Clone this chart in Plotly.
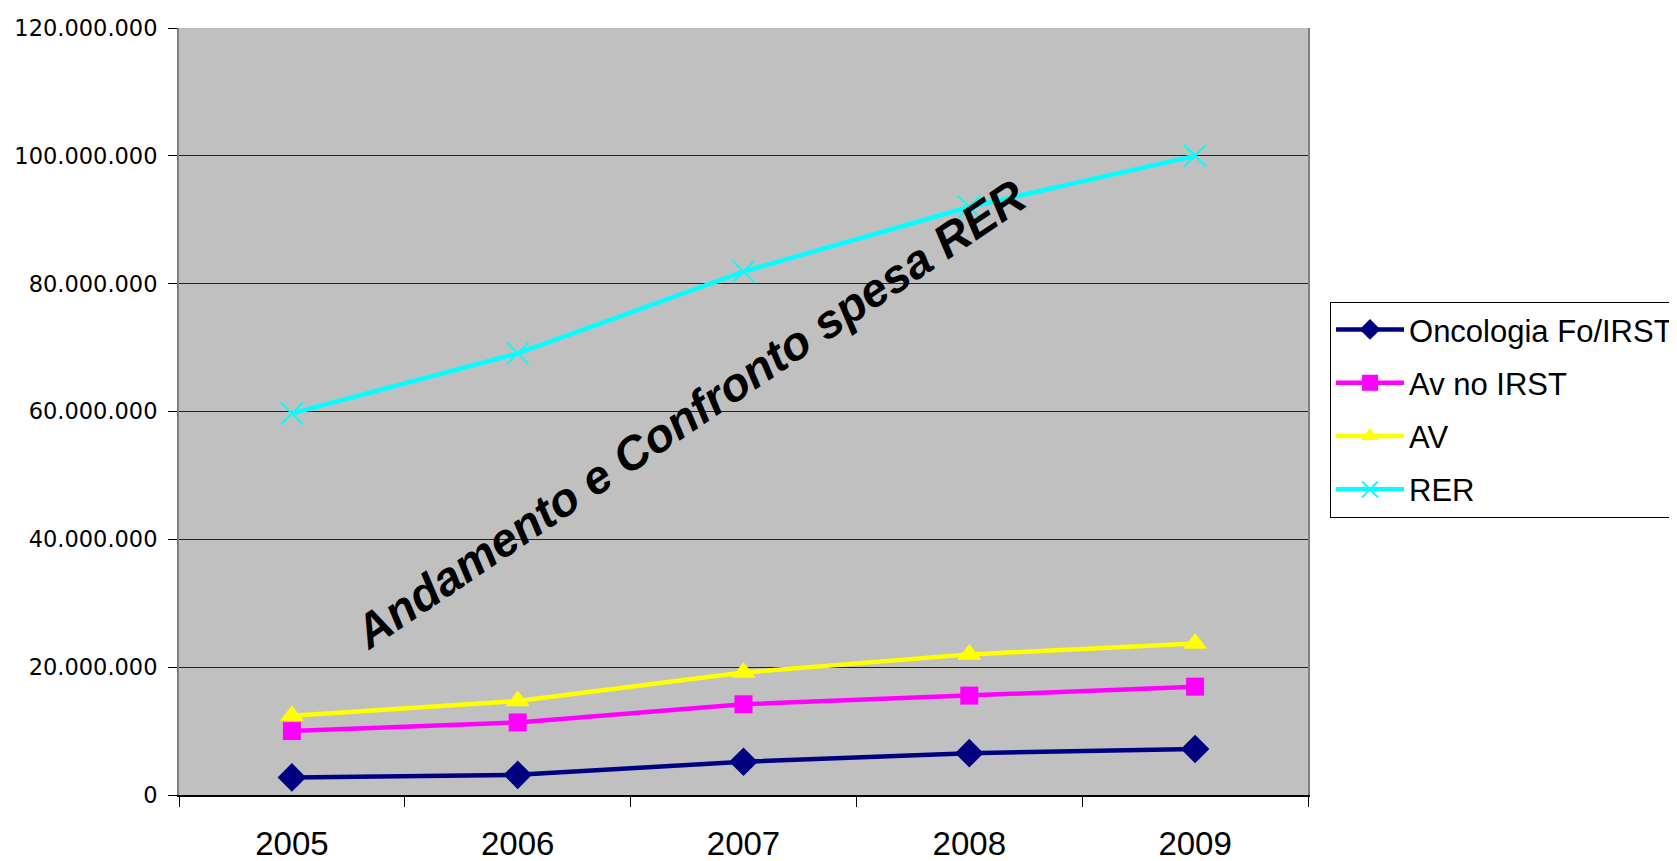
import plotly.graph_objects as go

years = ["2005", "2006", "2007", "2008", "2009"]
oncologia = [2750000, 3150000, 5200000, 6550000, 7200000]
av_no_irst = [10000000, 11350000, 14200000, 15550000, 16950000]
av = [12400000, 14700000, 19150000, 22000000, 23700000]
rer = [59700000, 69100000, 81900000, 92000000, 100000000]

series = [
    ("Oncologia Fo/IRST", oncologia, "#000080", "diamond", 22, None),
    ("Av no IRST", av_no_irst, "#FF00FF", "square", 18, None),
    ("AV", av, "#FFFF00", "triangle-up", 21, None),
    ("RER", rer, "#00FFFF", "x-thin", 22, 2),
]

fig = go.Figure()
for name, vals, color, sym, size, lw in series:
    marker = dict(symbol=sym, size=size, color=color)
    if lw:
        marker["line"] = dict(color=color, width=lw)
    fig.add_trace(go.Scatter(
        x=years, y=vals, name=name, mode="lines+markers", legendgroup=name,
        line=dict(color=color, width=4.5), marker=marker,
    ))

fig.add_annotation(
    text="<b><i>Andamento e Confronto spesa RER</i></b>",
    x=0.453, y=0.497, xref="paper", yref="paper",
    showarrow=False, textangle=-34,
    font=dict(family="Liberation Sans, Arial, sans-serif", size=47, color="black"),
)

# page body has an 8px margin: plot area offsets are compensated
fig.update_layout(
    width=1677, height=861,
    margin=dict(l=171, r=377, t=20, b=74, autoexpand=False),
    paper_bgcolor="white", plot_bgcolor="#C0C0C0",
    separators=",.",
    showlegend=True,
    legend=dict(
        x=1.0195, y=0.643, xanchor="left", yanchor="top",
        font=dict(family="Liberation Sans, Arial, sans-serif", size=31, color="black"),
        bordercolor="black", borderwidth=1, bgcolor="white",
        tracegroupgap=10, itemwidth=68,
    ),
    xaxis=dict(
        type="category", range=[-0.5, 4.5], automargin=False,
        tickson="boundaries", ticks="outside", ticklen=10, tickcolor="black",
        showgrid=False, showline=True, linecolor="black", linewidth=1.5,
        tickfont=dict(family="Liberation Sans, Arial, sans-serif", size=33, color="black"),
        ticklabelstandoff=19,
    ),
    yaxis=dict(
        range=[0, 120000000], dtick=20000000, tickformat=",d", automargin=False,
        ticks="outside", ticklen=9, tickcolor="black",
        showgrid=True, gridcolor="#222222", gridwidth=1,
        showline=True, linecolor="#808080", linewidth=2, mirror=True,
        zeroline=False,
        tickfont=dict(family="DejaVu Sans, sans-serif", size=22.5, color="black"),
        ticklabelstandoff=6,
    ),
)

fig.write_html("out.html")
